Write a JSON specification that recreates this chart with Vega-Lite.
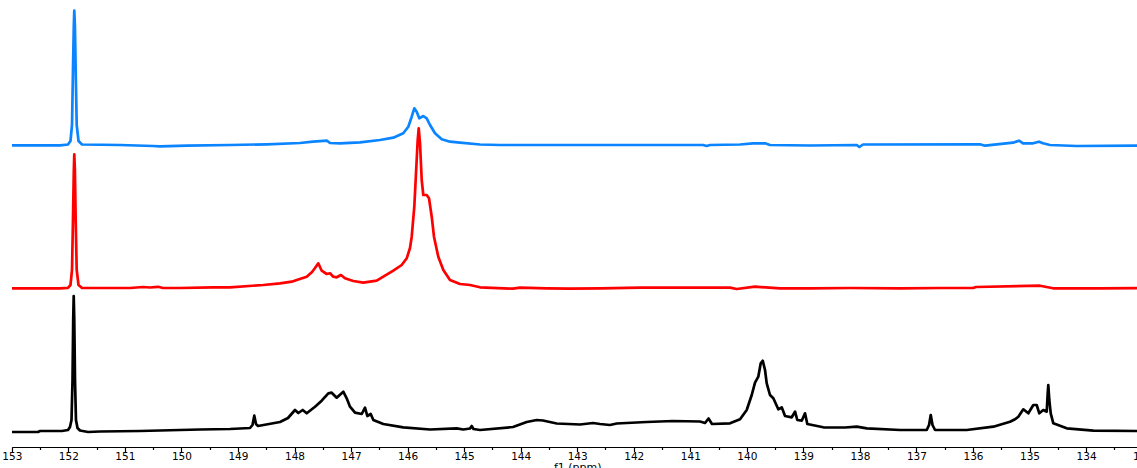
{
  "$schema": "https://vega.github.io/schema/vega-lite/v6.json",
  "width": 1137,
  "height": 447,
  "autosize": {"type": "none"},
  "padding": {"left": 0, "top": 0, "right": 0, "bottom": 21},
  "background": "white",
  "config": {"view": {"stroke": null}},
  "datasets": {
    "blue": [
      {"ppm": 152.996, "v": 0.7}, {"ppm": 152.147, "v": 0.7}, {"ppm": 152.006, "v": 1.5}, {"ppm": 151.962, "v": 5},
      {"ppm": 151.935, "v": 21}, {"ppm": 151.918, "v": 76}, {"ppm": 151.903, "v": 121}, {"ppm": 151.895, "v": 135.3},
      {"ppm": 151.884, "v": 121}, {"ppm": 151.87, "v": 76}, {"ppm": 151.852, "v": 21}, {"ppm": 151.82, "v": 5},
      {"ppm": 151.758, "v": 1.5}, {"ppm": 151.086, "v": 1}, {"ppm": 150.503, "v": 0}, {"ppm": 150.379, "v": -0.3},
      {"ppm": 149.901, "v": 0.3}, {"ppm": 149.141, "v": 1}, {"ppm": 148.486, "v": 1.7}, {"ppm": 147.903, "v": 3},
      {"ppm": 147.673, "v": 4.3}, {"ppm": 147.425, "v": 5.3}, {"ppm": 147.372, "v": 3}, {"ppm": 147.195, "v": 2.7},
      {"ppm": 146.841, "v": 3.7}, {"ppm": 146.488, "v": 6}, {"ppm": 146.252, "v": 8.3}, {"ppm": 146.076, "v": 12.7},
      {"ppm": 145.987, "v": 19.3}, {"ppm": 145.927, "v": 29.3}, {"ppm": 145.881, "v": 37.7}, {"ppm": 145.839, "v": 34.3},
      {"ppm": 145.793, "v": 27.7}, {"ppm": 145.722, "v": 30}, {"ppm": 145.662, "v": 27.7}, {"ppm": 145.603, "v": 21},
      {"ppm": 145.515, "v": 12.7}, {"ppm": 145.396, "v": 6.7}, {"ppm": 145.25, "v": 4.3}, {"ppm": 145.073, "v": 3.3},
      {"ppm": 144.719, "v": 1.5}, {"ppm": 144.365, "v": 1}, {"ppm": 140.775, "v": 1}, {"ppm": 140.709, "v": 0},
      {"ppm": 140.651, "v": 1}, {"ppm": 140.12, "v": 1.5}, {"ppm": 139.89, "v": 2.7}, {"ppm": 139.678, "v": 2.7},
      {"ppm": 139.59, "v": 1}, {"ppm": 138.882, "v": 0.5}, {"ppm": 138.056, "v": 1}, {"ppm": 138.01, "v": -1},
      {"ppm": 137.945, "v": 1.5}, {"ppm": 135.875, "v": 1.7}, {"ppm": 135.787, "v": 0.3}, {"ppm": 135.292, "v": 3.3},
      {"ppm": 135.186, "v": 5.3}, {"ppm": 135.115, "v": 2.7}, {"ppm": 134.938, "v": 2.7}, {"ppm": 134.832, "v": 4.3},
      {"ppm": 134.761, "v": 2.7}, {"ppm": 134.638, "v": 1}, {"ppm": 134.165, "v": 0}, {"ppm": 132.957, "v": 0.5}
    ],
    "red": [
      {"ppm": 152.996, "v": -0.3}, {"ppm": 152.147, "v": -0.3}, {"ppm": 152.006, "v": 0.2}, {"ppm": 151.962, "v": 3},
      {"ppm": 151.935, "v": 18}, {"ppm": 151.918, "v": 68}, {"ppm": 151.903, "v": 118}, {"ppm": 151.895, "v": 133.7},
      {"ppm": 151.884, "v": 118}, {"ppm": 151.87, "v": 68}, {"ppm": 151.852, "v": 18}, {"ppm": 151.82, "v": 3},
      {"ppm": 151.758, "v": 0}, {"ppm": 150.909, "v": 0}, {"ppm": 150.679, "v": 1}, {"ppm": 150.556, "v": 0.5},
      {"ppm": 150.414, "v": 1.2}, {"ppm": 150.326, "v": 0}, {"ppm": 150.025, "v": 0}, {"ppm": 149.441, "v": 0.7},
      {"ppm": 149.141, "v": 0.7}, {"ppm": 148.552, "v": 3}, {"ppm": 148.256, "v": 4.7}, {"ppm": 148.049, "v": 6.3},
      {"ppm": 147.961, "v": 8}, {"ppm": 147.784, "v": 11.3}, {"ppm": 147.69, "v": 16}, {"ppm": 147.637, "v": 20},
      {"ppm": 147.579, "v": 24.7}, {"ppm": 147.519, "v": 17.3}, {"ppm": 147.43, "v": 14}, {"ppm": 147.372, "v": 14.7},
      {"ppm": 147.314, "v": 11.3}, {"ppm": 147.254, "v": 10.7}, {"ppm": 147.178, "v": 13}, {"ppm": 147.107, "v": 9.7},
      {"ppm": 146.96, "v": 7}, {"ppm": 146.783, "v": 5.3}, {"ppm": 146.665, "v": 6.3}, {"ppm": 146.546, "v": 7.3},
      {"ppm": 146.429, "v": 11.3}, {"ppm": 146.252, "v": 17.3}, {"ppm": 146.104, "v": 23}, {"ppm": 146.015, "v": 29.7},
      {"ppm": 145.957, "v": 40}, {"ppm": 145.927, "v": 51.3}, {"ppm": 145.881, "v": 81.3}, {"ppm": 145.851, "v": 114.7},
      {"ppm": 145.821, "v": 148}, {"ppm": 145.803, "v": 159.7}, {"ppm": 145.78, "v": 144.7}, {"ppm": 145.75, "v": 108},
      {"ppm": 145.722, "v": 93}, {"ppm": 145.662, "v": 93}, {"ppm": 145.621, "v": 89.7}, {"ppm": 145.573, "v": 71.3},
      {"ppm": 145.533, "v": 51.3}, {"ppm": 145.457, "v": 31.3}, {"ppm": 145.368, "v": 18}, {"ppm": 145.25, "v": 8},
      {"ppm": 145.073, "v": 4}, {"ppm": 144.896, "v": 3}, {"ppm": 144.719, "v": 0.7}, {"ppm": 144.135, "v": -0.7},
      {"ppm": 144.012, "v": 0.3}, {"ppm": 143.539, "v": -0.3}, {"ppm": 143.127, "v": -0.7}, {"ppm": 142.596, "v": -0.3},
      {"ppm": 141.889, "v": 0.3}, {"ppm": 140.828, "v": 0.3}, {"ppm": 140.297, "v": 0.3}, {"ppm": 140.179, "v": -1},
      {"ppm": 139.855, "v": 1.3}, {"ppm": 139.413, "v": -0.3}, {"ppm": 138.882, "v": -0.3}, {"ppm": 138.175, "v": 0},
      {"ppm": 137.29, "v": -0.3}, {"ppm": 136.583, "v": 0}, {"ppm": 135.999, "v": 0}, {"ppm": 135.946, "v": 1},
      {"ppm": 134.814, "v": 2.3}, {"ppm": 134.584, "v": -0.3}, {"ppm": 133.753, "v": -0.3}, {"ppm": 132.957, "v": 0}
    ],
    "black": [
      {"ppm": 152.996, "v": -1}, {"ppm": 152.537, "v": -1}, {"ppm": 152.501, "v": 0}, {"ppm": 152.112, "v": 0},
      {"ppm": 152.006, "v": 1}, {"ppm": 151.971, "v": 4}, {"ppm": 151.944, "v": 11}, {"ppm": 151.926, "v": 51},
      {"ppm": 151.914, "v": 111}, {"ppm": 151.905, "v": 135}, {"ppm": 151.895, "v": 111}, {"ppm": 151.882, "v": 51},
      {"ppm": 151.865, "v": 11}, {"ppm": 151.838, "v": 3}, {"ppm": 151.794, "v": 0.5}, {"ppm": 151.652, "v": -1},
      {"ppm": 151.44, "v": -0.5}, {"ppm": 150.733, "v": 0}, {"ppm": 150.025, "v": 1}, {"ppm": 149.671, "v": 1.5},
      {"ppm": 149.141, "v": 2}, {"ppm": 148.787, "v": 3}, {"ppm": 148.743, "v": 6}, {"ppm": 148.711, "v": 15.3},
      {"ppm": 148.681, "v": 7}, {"ppm": 148.645, "v": 5}, {"ppm": 148.256, "v": 9}, {"ppm": 148.115, "v": 13},
      {"ppm": 147.991, "v": 21}, {"ppm": 147.933, "v": 18}, {"ppm": 147.855, "v": 21}, {"ppm": 147.784, "v": 17.7},
      {"ppm": 147.637, "v": 24.3}, {"ppm": 147.519, "v": 30.3}, {"ppm": 147.402, "v": 37.7}, {"ppm": 147.342, "v": 38.3},
      {"ppm": 147.254, "v": 33.3}, {"ppm": 147.137, "v": 39.3}, {"ppm": 147.077, "v": 32.7}, {"ppm": 147.018, "v": 24.3},
      {"ppm": 146.93, "v": 18.3}, {"ppm": 146.811, "v": 17}, {"ppm": 146.753, "v": 23.3}, {"ppm": 146.712, "v": 15},
      {"ppm": 146.652, "v": 17}, {"ppm": 146.606, "v": 11}, {"ppm": 146.429, "v": 7}, {"ppm": 146.076, "v": 3.7},
      {"ppm": 145.603, "v": 1.5}, {"ppm": 145.131, "v": 2.7}, {"ppm": 145.014, "v": 1.5}, {"ppm": 144.896, "v": 2.5},
      {"ppm": 144.866, "v": 5}, {"ppm": 144.834, "v": 2}, {"ppm": 144.719, "v": 1}, {"ppm": 144.135, "v": 4},
      {"ppm": 143.893, "v": 9}, {"ppm": 143.716, "v": 11}, {"ppm": 143.605, "v": 10.5}, {"ppm": 143.362, "v": 7.5},
      {"ppm": 142.95, "v": 6.5}, {"ppm": 142.72, "v": 8}, {"ppm": 142.596, "v": 7}, {"ppm": 142.42, "v": 6},
      {"ppm": 142.301, "v": 7.5}, {"ppm": 141.771, "v": 9}, {"ppm": 141.305, "v": 10}, {"ppm": 140.828, "v": 9.5},
      {"ppm": 140.739, "v": 8}, {"ppm": 140.677, "v": 12.5}, {"ppm": 140.616, "v": 7}, {"ppm": 140.297, "v": 7.7},
      {"ppm": 140.12, "v": 11.7}, {"ppm": 140.002, "v": 21}, {"ppm": 139.913, "v": 36}, {"ppm": 139.855, "v": 48.3},
      {"ppm": 139.797, "v": 54.3}, {"ppm": 139.754, "v": 67.7}, {"ppm": 139.719, "v": 70.3}, {"ppm": 139.678, "v": 61},
      {"ppm": 139.648, "v": 47.7}, {"ppm": 139.59, "v": 36}, {"ppm": 139.531, "v": 32.7}, {"ppm": 139.443, "v": 21.7},
      {"ppm": 139.383, "v": 23.7}, {"ppm": 139.324, "v": 15}, {"ppm": 139.206, "v": 13.7}, {"ppm": 139.147, "v": 19.3},
      {"ppm": 139.107, "v": 11}, {"ppm": 139.029, "v": 10.3}, {"ppm": 138.971, "v": 17.7}, {"ppm": 138.93, "v": 7},
      {"ppm": 138.647, "v": 3.7}, {"ppm": 138.263, "v": 3.5}, {"ppm": 138.056, "v": 4.3}, {"ppm": 137.879, "v": 2.7},
      {"ppm": 137.29, "v": 1}, {"ppm": 136.818, "v": 1}, {"ppm": 136.777, "v": 6}, {"ppm": 136.747, "v": 16},
      {"ppm": 136.716, "v": 6}, {"ppm": 136.671, "v": 1}, {"ppm": 136.111, "v": 1}, {"ppm": 135.64, "v": 4.3},
      {"ppm": 135.345, "v": 9.3}, {"ppm": 135.256, "v": 11.7}, {"ppm": 135.198, "v": 14.3}, {"ppm": 135.11, "v": 21.7},
      {"ppm": 135.021, "v": 17.7}, {"ppm": 134.933, "v": 26}, {"ppm": 134.873, "v": 26}, {"ppm": 134.827, "v": 17.7},
      {"ppm": 134.756, "v": 21}, {"ppm": 134.696, "v": 19.3}, {"ppm": 134.68, "v": 36}, {"ppm": 134.668, "v": 46},
      {"ppm": 134.65, "v": 31}, {"ppm": 134.625, "v": 17.7}, {"ppm": 134.579, "v": 7.7}, {"ppm": 134.342, "v": 2.7},
      {"ppm": 133.872, "v": 0.3}, {"ppm": 133.099, "v": 0}, {"ppm": 132.957, "v": 0}
    ]
  },
  "encoding": {
    "x": {
      "field": "ppm",
      "type": "quantitative",
      "scale": {"domain": [153, 133], "range": [11.8, 1142.6], "nice": false, "zero": false},
      "axis": {
        "title": "f1 (ppm)",
        "values": [133, 133.5, 134, 134.5, 135, 135.5, 136, 136.5, 137, 137.5, 138, 138.5, 139, 139.5, 140, 140.5, 141, 141.5, 142, 142.5, 143, 143.5, 144, 144.5, 145, 145.5, 146, 146.5, 147, 147.5, 148, 148.5, 149, 149.5, 150, 150.5, 151, 151.5, 152, 152.5, 153],
        "labelExpr": "datum.value % 1 == 0 ? format(datum.value, 'd') : ''",
        "tickSize": {"condition": {"test": "datum.value % 1 != 0", "value": 2.5}, "value": 4.5},
        "labelFlush": false,
        "labelOverlap": false,
        "grid": false,
        "domainColor": "#000000",
        "domainWidth": 1.2,
        "tickColor": "#000000",
        "tickWidth": 1.2,
        "labelFont": "DejaVu Sans",
        "labelFontSize": 10.5,
        "labelColor": "#000000",
        "labelPadding": 0,
        "titleFont": "DejaVu Sans",
        "titleFontSize": 11,
        "titleFontWeight": "normal",
        "titleColor": "#000000",
        "titleBaseline": "top",
        "titleY": 14
      }
    }
  },
  "layer": [
    {
      "data": {"name": "blue"},
      "mark": {"type": "line", "color": "#0a84ff", "strokeWidth": 2.7, "strokeJoin": "round", "clip": true},
      "encoding": {
        "y": {"field": "v", "type": "quantitative", "scale": {"domain": [-301, 146], "nice": false, "zero": false}, "axis": null}
      }
    },
    {
      "data": {"name": "red"},
      "mark": {"type": "line", "color": "#ff0000", "strokeWidth": 2.7, "strokeJoin": "round", "clip": true},
      "encoding": {
        "y": {"field": "v", "type": "quantitative", "scale": {"domain": [-159, 288], "nice": false, "zero": false}, "axis": null}
      }
    },
    {
      "data": {"name": "black"},
      "mark": {"type": "line", "color": "#000000", "strokeWidth": 2.7, "strokeJoin": "round", "clip": true},
      "encoding": {
        "y": {"field": "v", "type": "quantitative", "scale": {"domain": [-16, 431], "nice": false, "zero": false}, "axis": null}
      }
    }
  ],
  "resolve": {"scale": {"y": "independent"}, "axis": {"y": "independent"}}
}
